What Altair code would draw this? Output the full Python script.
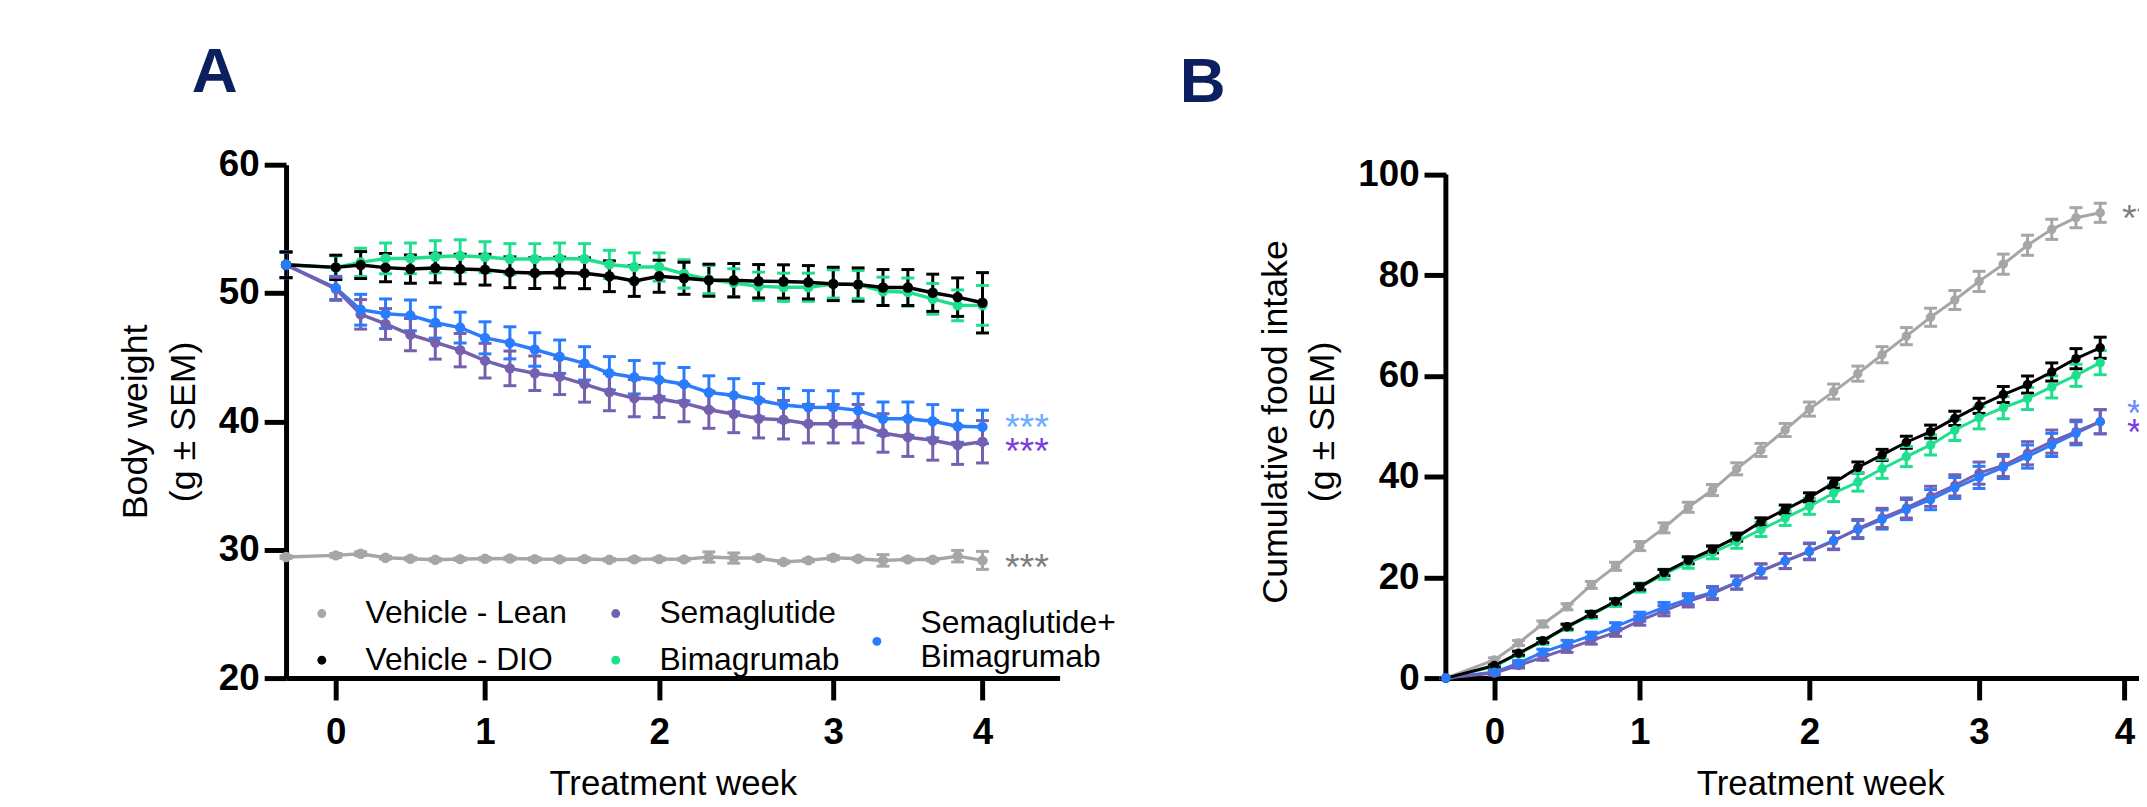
import altair as alt
import pandas as pd

FONT = "Liberation Sans, Arial, Helvetica, sans-serif"

GROUPS = ["Vehicle - Lean", "Vehicle - DIO", "Semaglutide", "Bimagrumab", "Semaglutide+Bimagrumab"]
COLORS = ["#a6a6a9", "#000000", "#7560b0", "#1edf8d", "#2a7cff"]
DRAW_ORDER = ["Vehicle - Lean", "Bimagrumab", "Semaglutide+Bimagrumab", "Semaglutide", "Vehicle - DIO"]
COMBO = "Semaglutide+Bimagrumab"
LEGEND_VALUES = ["Vehicle - Lean", "Vehicle - DIO", "Semaglutide", "Bimagrumab"]

WEEK_TICKS = [0, 6, 13, 20, 26]
WEEK_LABELS = ["0", "1", "2", "3", "4"]

# ---------------- Panel A: body weight ----------------
A_DAYS = [-2, 0, 1, 2, 3, 4, 5, 6, 7, 8, 9, 10, 11, 12, 13, 14, 15, 16, 17, 18, 19, 20, 21, 22, 23, 24, 25, 26]
A_MEAN = {
    "Vehicle - Lean": [29.43, 29.56, 29.69, 29.38, 29.30, 29.22, 29.27, 29.30, 29.32, 29.27, 29.25, 29.27, 29.22, 29.25,
                       29.27, 29.25, 29.43, 29.35, 29.35, 29.04, 29.17, 29.38, 29.30, 29.17, 29.25, 29.22, 29.50, 29.17],
    "Vehicle - DIO": [52.2, 52.0, 52.18, 51.98, 51.87, 51.95, 51.87, 51.82, 51.62, 51.56, 51.6, 51.54, 51.31, 50.94,
                      51.31, 51.15, 51.0, 51.0, 50.92, 50.9, 50.84, 50.71, 50.66, 50.43, 50.43, 50.02, 49.68, 49.24],
    "Bimagrumab": [52.2, 52.0, 52.39, 52.70, 52.70, 52.83, 52.90, 52.80, 52.65, 52.65, 52.70, 52.65, 52.23, 52.03,
                   52.03, 51.49, 51.05, 50.79, 50.53, 50.45, 50.45, 50.71, 50.66, 50.14, 50.07, 49.55, 49.04, 49.04],
    "Semaglutide": [52.2, 50.33, 48.34, 47.59, 46.76, 46.15, 45.55, 44.73, 44.13, 43.75, 43.49, 42.9, 42.28, 41.81,
                    41.76, 41.42, 40.91, 40.57, 40.21, 40.13, 39.82, 39.82, 39.82, 39.1, 38.77, 38.53, 38.15, 38.41],
    "Semaglutide+Bimagrumab": [52.2, 50.4, 48.7, 48.39, 48.26, 47.69, 47.31, 46.51, 46.12, 45.6, 45.04, 44.52, 43.75,
                               43.44, 43.23, 42.9, 42.25, 42.03, 41.65, 41.27, 41.1, 41.09, 40.86, 40.21, 40.21, 40.01,
                               39.62, 39.57],
}
A_SEM = {
    "Vehicle - Lean": [0.1, 0.15, 0.15, 0.1, 0.1, 0.1, 0.1, 0.1, 0.1, 0.1, 0.1, 0.1, 0.1, 0.1, 0.1, 0.1, 0.4, 0.4,
                       0.1, 0.1, 0.1, 0.15, 0.1, 0.45, 0.1, 0.1, 0.45, 0.7],
    "Vehicle - DIO": [1.0, 0.95, 1.05, 1.1, 1.1, 1.15, 1.15, 1.2, 1.2, 1.2, 1.2, 1.2, 1.2, 1.2, 1.25, 1.25, 1.25, 1.3,
                      1.3, 1.3, 1.3, 1.3, 1.3, 1.4, 1.4, 1.45, 1.5, 2.35],
    "Bimagrumab": [1.0, 0.9, 1.1, 1.2, 1.2, 1.25, 1.25, 1.2, 1.2, 1.2, 1.2, 1.2, 1.1, 1.1, 1.1, 1.1, 1.1, 1.1, 1.1,
                   1.1, 1.1, 1.1, 1.1, 1.1, 1.1, 1.2, 1.2, 1.55],
    "Semaglutide": [1.0, 0.9, 1.15, 1.2, 1.25, 1.3, 1.3, 1.35, 1.35, 1.35, 1.4, 1.4, 1.45, 1.45, 1.45, 1.45, 1.45,
                    1.45, 1.5, 1.5, 1.5, 1.5, 1.5, 1.5, 1.5, 1.55, 1.5, 1.65],
    "Semaglutide+Bimagrumab": [1.0, 0.9, 1.2, 1.15, 1.2, 1.2, 1.2, 1.25, 1.25, 1.3, 1.3, 1.3, 1.3, 1.3, 1.3, 1.3,
                               1.3, 1.3, 1.3, 1.3, 1.3, 1.3, 1.3, 1.3, 1.3, 1.3, 1.25, 1.3],
}
A_XDOM = [-2, 29.1]
A_YDOM = [20, 60]
A_YTICKS = [20, 30, 40, 50, 60]
A_STAR_X = [26.9, 26.9, 26.9]
A_STAR_Y = [40.1, 38.2, 29.2]
A_STAR_TEXT = ["***", "***", "***"]
A_STAR_COLOR = ["#6aaeff", "#7b3fe0", "#7f7f7f"]

# ---------------- Panel B: cumulative food intake ----------------
B_DAYS = [-2, 0, 1, 2, 3, 4, 5, 6, 7, 8, 9, 10, 11, 12, 13, 14, 15, 16, 17, 18, 19, 20, 21, 22, 23, 24, 25]
B_MEAN = {
    "Vehicle - Lean": [0, 3.62, 6.98, 10.74, 14.16, 18.51, 22.2, 26.22, 29.84, 33.93, 37.35, 41.57, 45.32, 49.28,
                       53.43, 56.9, 60.47, 64.23, 67.92, 71.67, 75.1, 78.79, 82.21, 85.97, 89.13, 91.44, 92.42],
    "Vehicle - DIO": [0, 2.5, 4.94, 7.44, 10.21, 12.71, 15.22, 18.12, 20.95, 23.39, 25.56, 28.0, 31.03, 33.47, 35.9,
                      38.74, 41.83, 44.33, 46.84, 48.95, 51.58, 54.08, 56.32, 58.3, 60.8, 63.44, 65.61],
    "Bimagrumab": [0, 2.31, 4.81, 7.31, 10.08, 12.58, 15.02, 17.98, 20.62, 22.92, 24.9, 27.08, 29.51, 31.82, 34.12,
                   36.76, 38.93, 41.57, 44.0, 46.31, 49.27, 51.7, 53.7, 55.53, 57.84, 60.14, 62.65],
    "Semaglutide": [0, 0.99, 2.5, 4.15, 5.8, 7.44, 9.09, 11.4, 13.37, 15.22, 16.8, 18.97, 21.28, 23.25, 25.1, 27.21,
                    29.71, 31.82, 33.79, 36.1, 38.27, 40.71, 42.23, 44.66, 46.97, 48.95, 50.92],
    "Semaglutide+Bimagrumab": [0, 1.19, 2.96, 5.14, 6.79, 8.43, 10.21, 12.19, 14.03, 15.68, 17.0, 18.97, 21.28,
                               23.25, 25.23, 27.34, 29.51, 31.49, 33.47, 35.44, 37.75, 39.86, 41.83, 44.0, 46.31,
                               48.62, 50.92],
}
B_SEM = {
    "Vehicle - Lean": [0, 0.4, 0.5, 0.6, 0.6, 0.7, 0.8, 0.9, 1.0, 1.0, 1.1, 1.2, 1.3, 1.3, 1.4, 1.5, 1.5, 1.6, 1.7,
                       1.8, 1.9, 2.0, 2.0, 2.0, 2.0, 2.0, 1.9],
    "Vehicle - DIO": [0, 0.3, 0.4, 0.4, 0.5, 0.5, 0.5, 0.6, 0.6, 0.7, 0.7, 0.8, 0.8, 0.9, 0.9, 1.0, 1.1, 1.1, 1.2,
                      1.3, 1.4, 1.5, 1.6, 1.7, 1.8, 2.0, 2.1],
    "Bimagrumab": [0, 0.4, 0.5, 0.6, 0.6, 0.7, 0.8, 0.9, 1.0, 1.1, 1.2, 1.3, 1.4, 1.5, 1.6, 1.7, 1.8, 1.9, 2.0, 2.0,
                   2.1, 2.2, 2.2, 2.2, 2.2, 2.2, 2.4],
    "Semaglutide": [0, 0.4, 0.5, 0.6, 0.7, 0.7, 0.8, 0.9, 1.0, 1.1, 1.2, 1.3, 1.4, 1.5, 1.6, 1.7, 1.8, 1.9, 2.0, 2.0,
                    2.1, 2.2, 2.2, 2.3, 2.3, 2.3, 2.4],
    "Semaglutide+Bimagrumab": [0, 0.4, 0.5, 0.6, 0.7, 0.7, 0.8, 0.9, 1.0, 1.1, 1.2, 1.3, 1.4, 1.5, 1.6, 1.7, 1.8,
                               1.9, 2.0, 2.0, 2.1, 2.2, 2.2, 2.3, 2.3, 2.3, 2.4],
}
B_XDOM = [-2, 26.6]
B_YDOM = [0, 101.97]
B_YTICKS = [0, 20, 40, 60, 80, 100]
B_STAR_X = [25.9, 26.1, 26.1]
B_STAR_Y = [92.7, 53.95, 50.3]
B_STAR_TEXT = ["***", "***", "***"]
B_STAR_COLOR = ["#7f7f7f", "#6d8cff", "#7b3fe0"]

LABEL_EXPR = " : ".join(
    f"datum.value == {t} ? '{l}'" for t, l in zip(WEEK_TICKS, WEEK_LABELS)
) + " : ''"


def long_df(days, means, sems):
    rows = []
    for g in DRAW_ORDER:
        for d, m, s in zip(days, means[g], sems[g]):
            rows.append({"group": g, "day": d, "mean": m, "lo": m - s, "hi": m + s})
    return pd.DataFrame(rows)


SCALE = alt.Scale(domain=GROUPS, range=COLORS)


def make_panel(df, xdom, ydom, yticks, ytitle, width, height, line_w, pt_size,
               star_x, star_y, star_text, star_color, panel_label, label_dx, show_legend, y_domain_line,
               xtitle_x=None):
    def xe():
        axis_kw = dict(values=WEEK_TICKS, labelExpr=LABEL_EXPR, title="Treatment week",
                       labelPadding=15, titlePadding=16, titleFontSize=35, labelAngle=0)
        if xtitle_x is not None:
            axis_kw["titleX"] = xtitle_x
        return alt.X("day:Q", scale=alt.Scale(domain=xdom, nice=False, zero=False), axis=alt.Axis(**axis_kw))

    def ye(field):
        return alt.Y(f"{field}:Q", scale=alt.Scale(domain=ydom, nice=False, zero=False),
                     axis=alt.Axis(values=yticks, title=ytitle, domain=y_domain_line, labelPadding=5,
                                   titlePadding=16, titleFontSize=36, titleLineHeight=48))

    base = alt.Chart(df)
    stroke = alt.Stroke("group:N", scale=SCALE, legend=None)
    fill = alt.Fill("group:N", scale=SCALE, legend=None)
    if show_legend:
        color_legend = alt.Legend(title=None, orient="none", legendX=20, legendY=436, columns=2,
                                  values=LEGEND_VALUES, symbolType="circle", symbolSize=80,
                                  symbolStrokeWidth=0, labelFont=FONT, labelFontSize=32, labelColor="black",
                                  labelLimit=500, labelOffset=28, columnPadding=33, rowPadding=15, padding=0)
    else:
        color_legend = None

    layers = []
    if not y_domain_line:
        axis_df = pd.DataFrame({"day": [xdom[0]], "lo": [yticks[0]], "hi": [yticks[-1]]})
        layers.append(alt.Chart(axis_df).mark_rule(strokeWidth=5, color="black").encode(
            x=xe(), y=ye("lo"), y2="hi"))

    layers.append(base.mark_rule(strokeWidth=3).encode(x=xe(), y=ye("lo"), y2="hi", stroke=stroke))
    layers.append(base.mark_tick(thickness=3, size=13, orient="horizontal", opacity=1).encode(
        x=xe(), y=ye("lo"), fill=fill))
    layers.append(base.mark_tick(thickness=3, size=13, orient="horizontal", opacity=1).encode(
        x=xe(), y=ye("hi"), fill=fill))
    layers.append(base.mark_line(strokeWidth=line_w).encode(x=xe(), y=ye("mean"), stroke=stroke))
    layers.append(base.transform_filter(alt.datum.group != COMBO).mark_circle(size=pt_size, opacity=1).encode(
        x=xe(), y=ye("mean"), color=alt.Color("group:N", scale=SCALE, legend=color_legend)))
    if show_legend:
        shape_legend = alt.Legend(title=None, orient="none", legendX=579, legendY=464,
                                  symbolType="circle", symbolSize=80, symbolStrokeWidth=0,
                                  symbolFillColor=COLORS[GROUPS.index(COMBO)],
                                  labelFont=FONT, labelFontSize=32, labelColor="black", labelLimit=500,
                                  labelOffset=28, padding=0, labelBaseline="line-bottom",
                                  labelExpr="[slice(datum.label, 0, 12), slice(datum.label, 12)]")
        layers.append(base.transform_filter(alt.datum.group == COMBO).transform_calculate(
            combo_label="datum.group").mark_point(filled=True, size=pt_size, opacity=1).encode(
            x=xe(), y=ye("mean"), color=alt.Color("group:N", scale=SCALE, legend=color_legend),
            shape=alt.Shape("combo_label:N", scale=alt.Scale(domain=[COMBO], range=["circle"]),
                            legend=shape_legend)))
    else:
        layers.append(base.transform_filter(alt.datum.group == COMBO).mark_circle(size=pt_size, opacity=1).encode(
            x=xe(), y=ye("mean"), color=alt.Color("group:N", scale=SCALE, legend=None)))

    for sx, sy, st, sc in zip(star_x, star_y, star_text, star_color):
        sdf = pd.DataFrame({"day": [sx], "val": [sy], "txt": [st]})
        layers.append(alt.Chart(sdf).mark_text(align="left", baseline="alphabetic", dy=20, fontSize=38,
                                               font=FONT, color=sc, clip=True).encode(
            x=xe(), y=ye("val"), text="txt:N"))

    return alt.layer(*layers).properties(
        width=width, height=height,
        title=alt.TitleParams(panel_label, anchor="start", frame="group", dx=label_dx, fontSize=64,
                              fontWeight="bold", color="#0c1f5f", font=FONT, offset=41),
    )


dfA = long_df(A_DAYS, A_MEAN, A_SEM)
dfB = long_df(B_DAYS, B_MEAN, B_SEM)

panelA = make_panel(dfA, A_XDOM, A_YDOM, A_YTICKS, ["Body weight", "(g ± SEM)"], 779, 517, 3.5, 110,
                    A_STAR_X, A_STAR_Y, A_STAR_TEXT, A_STAR_COLOR, "A", -95, True, True)
panelB = make_panel(dfB, B_XDOM, B_YDOM, B_YTICKS, ["Cumulative food intake", "(g ± SEM)"], 698, 517, 3, 90,
                    B_STAR_X, B_STAR_Y, B_STAR_TEXT, B_STAR_COLOR, "B", -268, False, False, xtitle_x=377)

chart = alt.hconcat(panelA, panelB, spacing=64).resolve_scale(
    x="independent", y="independent").resolve_legend(color="independent", shape="independent").properties(
    padding={"left": 110, "top": 31, "right": 0, "bottom": 0}
).configure_view(stroke=None).configure_axis(
    labelFont=FONT, labelFontSize=37, labelFontWeight="bold", labelColor="black",
    titleFont=FONT, titleFontWeight="normal", titleColor="black",
    domainColor="black", domainWidth=5, tickColor="black", tickWidth=5, tickSize=22, grid=False,
)

chart.save("out.html", embed_options={"renderer": "svg", "actions": False})
